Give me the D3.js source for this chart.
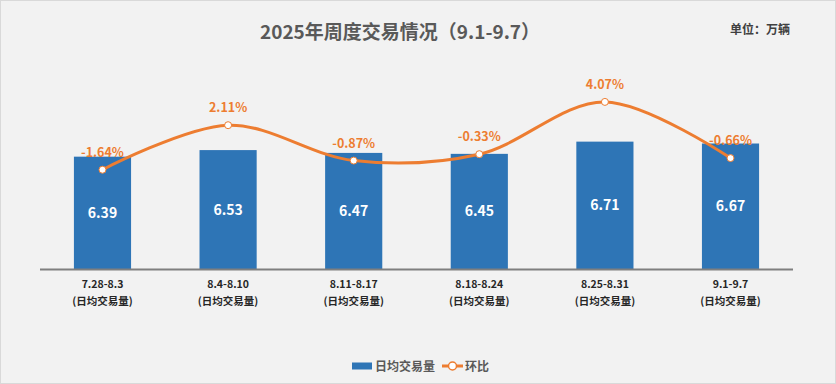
<!DOCTYPE html>
<html lang="zh">
<head>
<meta charset="utf-8">
<title>2025年周度交易情况</title>
<script src="https://d3js.org/d3.v7.min.js"></script>
<style>
	body { margin: 0; background: #fff; }
	svg { display: block; font-family: "Noto Sans CJK SC", "Noto Sans", sans-serif; }
</style>
</head>
<body>
<script>
// data
var weeks = ["7.28-8.3", "8.4-8.10", "8.11-8.17", "8.18-8.24", "8.25-8.31", "9.1-9.7"];
var dailyVolume = [6.39, 6.53, 6.47, 6.45, 6.71, 6.67];
var weekChange = [-1.64, 2.11, -0.87, -0.33, 4.07, -0.66];
var subLabel = "(日均交易量)";

var width = 836, height = 384;
var blue = "#2E75B6", orange = "#ED7D31";

var svg = d3.select("body").append("svg")
	.attr("width", width)
	.attr("height", height);

// background + frame
svg.append("rect")
	.attr("x", 0.5).attr("y", 0.5)
	.attr("width", width - 1).attr("height", height - 1)
	.attr("fill", "#F2F2F2")
	.attr("stroke", "#D9D9D9");

// scales
var x = d3.scaleBand().domain(weeks).range([40, 793]).paddingInner(0.545).paddingOuter(0.27);
var y = d3.scaleLinear().domain([4, 8]).range([269, 81]);
var y2 = d3.scaleLinear().domain([-10, 6]).range([269, 79]);

// title
svg.append("text")
	.attr("x", 400).attr("y", 39)
	.attr("text-anchor", "middle")
	.attr("font-size", 19).attr("font-weight", "bold")
	.attr("fill", "#595959")
	.text("2025年周度交易情况（9.1-9.7）");

svg.append("text")
	.attr("x", 790).attr("y", 34)
	.attr("text-anchor", "end")
	.attr("font-size", 12).attr("font-weight", "bold")
	.attr("fill", "#404040")
	.text("单位：万辆");

// bars
svg.append("g").selectAll("rect")
	.data(dailyVolume)
	.enter().append("rect")
	.attr("x", function(d, i) { return x(weeks[i]); })
	.attr("y", function(d) { return y(d); })
	.attr("width", x.bandwidth())
	.attr("height", function(d) { return y(4) - y(d); })
	.attr("fill", blue);

svg.append("g").selectAll("text")
	.data(dailyVolume)
	.enter().append("text")
	.attr("x", function(d, i) { return x(weeks[i]) + x.bandwidth() / 2; })
	.attr("y", function(d) { return (y(d) + y(4)) / 2 + 5; })
	.attr("text-anchor", "middle")
	.attr("font-size", 14).attr("font-weight", "bold")
	.attr("fill", "#fff")
	.text(function(d) { return d.toFixed(2); });

// axis line
svg.append("line")
	.attr("x1", 40).attr("x2", 793)
	.attr("y1", 269.5).attr("y2", 269.5)
	.attr("stroke", "#7F7F7F").attr("stroke-width", 2);

// category labels
var cats = svg.append("g").selectAll("g")
	.data(weeks)
	.enter().append("g")
	.attr("transform", function(d) { return "translate(" + (x(d) + x.bandwidth() / 2) + ",0)"; });
cats.append("text")
	.attr("y", 288).attr("text-anchor", "middle")
	.attr("font-size", 10.5).attr("font-weight", "bold").attr("fill", "#262626")
	.text(function(d) { return d; });
cats.append("text")
	.attr("y", 305).attr("text-anchor", "middle")
	.attr("font-size", 10.5).attr("font-weight", "bold").attr("fill", "#262626")
	.text(subLabel);

// change line
var cx = function(d, i) { return x(weeks[i]) + x.bandwidth() / 2; };
var line = d3.line()
	.x(cx)
	.y(function(d) { return y2(d); })
	.curve(d3.curveCatmullRom.alpha(0.5));

svg.append("path")
	.datum(weekChange)
	.attr("d", line)
	.attr("fill", "none")
	.attr("stroke", orange)
	.attr("stroke-width", 3);

svg.append("g").selectAll("circle")
	.data(weekChange)
	.enter().append("circle")
	.attr("cx", cx)
	.attr("cy", function(d) { return y2(d); })
	.attr("r", 3.5)
	.attr("fill", "#fff")
	.attr("stroke", orange)
	.attr("stroke-width", 1);

svg.append("g").selectAll("text")
	.data(weekChange)
	.enter().append("text")
	.attr("x", cx)
	.attr("y", function(d) { return y2(d) - 13; })
	.attr("text-anchor", "middle")
	.attr("font-size", 12.5).attr("font-weight", "bold")
	.attr("fill", orange)
	.text(function(d) { return d.toFixed(2) + "%"; });

// legend
var lg = svg.append("g").attr("transform", "translate(0,366)");
lg.append("rect").attr("x", 352).attr("y", -3.5).attr("width", 20).attr("height", 7).attr("fill", blue);
lg.append("text").attr("x", 375).attr("y", 4.5).attr("font-size", 12).attr("font-weight", "bold")
	.attr("fill", "#595959").text("日均交易量");
lg.append("line").attr("x1", 442).attr("x2", 463).attr("y1", 0).attr("y2", 0)
	.attr("stroke", orange).attr("stroke-width", 3);
lg.append("circle").attr("cx", 452.5).attr("cy", 0).attr("r", 4)
	.attr("fill", "#fff").attr("stroke", orange).attr("stroke-width", 1.5);
lg.append("text").attr("x", 465).attr("y", 4.5).attr("font-size", 12).attr("font-weight", "bold")
	.attr("fill", "#595959").text("环比");
</script>
</body>
</html>
